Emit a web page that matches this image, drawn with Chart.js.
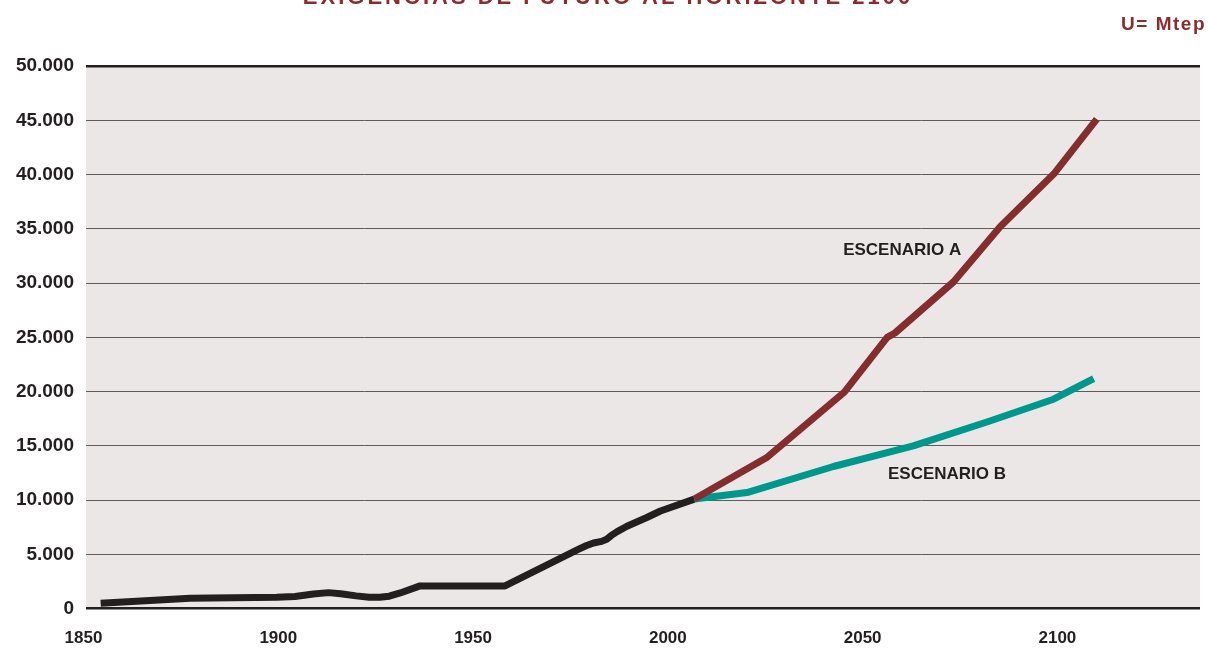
<!DOCTYPE html>
<html lang="es">
<head>
<meta charset="utf-8">
<title>Exigencias de futuro</title>
<script src="https://cdn.jsdelivr.net/npm/chart.js@4.4.1/dist/chart.umd.min.js"></script>
<style>
  html, body { margin: 0; padding: 0; background: #ffffff; }
  canvas { display: block; }
</style>
</head>
<body>
<canvas id="energyChart" width="1208" height="649"></canvas>
<script>
// historic consumption (Mtep)
const histYears = [1854.4, 1877.4, 1899.6, 1904.3, 1909, 1912.9, 1916, 1920, 1923.3, 1926, 1928.5, 1931.3, 1936.4, 1958.2, 1976.6, 1979, 1980.9, 1983, 1984.3, 1985.5, 1987, 1989.5, 1994.6, 1998.1, 2006.8];
const histValues = [500, 960, 1060, 1120, 1350, 1480, 1380, 1180, 1060, 1060, 1150, 1450, 2100, 2100, 5400, 5800, 6050, 6200, 6400, 6750, 7100, 7600, 8400, 9000, 10100];

// scenario A
const yearsA = [2006.8, 2025.3, 2045.3, 2056.3, 2058.3, 2073.3, 2085.3, 2099.3, 2110.1];
const valuesA = [10100, 13900, 19950, 25000, 25400, 30100, 35200, 40150, 45100];

// scenario B
const yearsB = [2006.8, 2020.3, 2042.5, 2063.0, 2081.9, 2099.0, 2109.3];
const valuesB = [10100, 10700, 13100, 15000, 17200, 19300, 21200];

const xTicks = [1850, 1900, 1950, 2000, 2050, 2100];

const titleText = 'EXIGENCIAS DE FUTURO AL HORIZONTE 2100';
const unitText = 'U= Mtep';
const scenarioLabels = [
    { text: 'ESCENARIO A', year: 2045.0, value: 33050 },
    { text: 'ESCENARIO B', year: 2056.5, value: 12350 }
];

const toPoints = (xs, ys) => xs.map((x, i) => ({ x, y: ys[i] }));

// thousands with a dot, like 50.000
function formatNumber(v) {
    return String(v).replace(/\B(?=(\d{3})+(?!\d))/g, '.');
}

const plotBackground = {
    id: 'plotBackground',
    beforeDraw(chart) {
        const { ctx, chartArea } = chart;
        ctx.save();
        ctx.fillStyle = '#ebe7e6';
        ctx.fillRect(chartArea.left, chartArea.top, chartArea.right - chartArea.left, chartArea.bottom - chartArea.top);
        ctx.restore();
    }
};

const textLayer = {
    id: 'textLayer',
    afterDraw(chart) {
        const { ctx } = chart;
        const xs = chart.scales.x;
        const ys = chart.scales.y;
        ctx.save();

        // title, sitting at the very top edge
        ctx.fillStyle = '#8c2b2b';
        ctx.font = 'bold 22px "Liberation Sans", Arial, sans-serif';
        ctx.letterSpacing = '3px';
        ctx.textAlign = 'center';
        ctx.textBaseline = 'alphabetic';
        ctx.fillText(titleText, 608, 4);

        // units
        ctx.font = 'bold 19px "Liberation Sans", Arial, sans-serif';
        ctx.letterSpacing = '1.5px';
        ctx.textAlign = 'right';
        ctx.textBaseline = 'middle';
        ctx.fillText(unitText, 1206, 25);
        ctx.letterSpacing = '0px';

        // scenario names
        ctx.fillStyle = '#231f20';
        ctx.font = 'bold 17px "Liberation Sans", Arial, sans-serif';
        ctx.textAlign = 'left';
        scenarioLabels.forEach(l => {
            ctx.fillText(l.text, xs.getPixelForValue(l.year), ys.getPixelForValue(l.value));
        });
        ctx.restore();
    }
};

const lineStyle = {
    pointRadius: 0,
    borderWidth: 7,
    fill: false,
    tension: 0,
    borderJoinStyle: 'round'
};

new Chart(document.getElementById('energyChart'), {
    type: 'line',
    data: {
        datasets: [
            { ...lineStyle, label: 'Escenario A', data: toPoints(yearsA, valuesA), borderColor: '#832d2c' },
            { ...lineStyle, label: 'Escenario B', data: toPoints(yearsB, valuesB), borderColor: '#00978d' },
            { ...lineStyle, label: 'Histórico', data: toPoints(histYears, histValues), borderColor: '#231f20' }
        ]
    },
    options: {
        responsive: false,
        animation: false,
        devicePixelRatio: 1,
        layout: { padding: { top: 66, right: 8, left: 0, bottom: 0 } },
        plugins: {
            legend: { display: false },
            tooltip: { enabled: false }
        },
        scales: {
            x: {
                type: 'linear',
                min: 1850.64,
                max: 2136.6,
                afterBuildTicks: axis => { axis.ticks = xTicks.map(v => ({ value: v })); },
                afterFit: axis => { axis.height = 40.3; },
                grid: { display: false },
                border: { display: false },
                ticks: {
                    padding: 11,
                    color: '#231f20',
                    font: { family: '"Liberation Sans", Arial, sans-serif', size: 17, weight: 'bold' },
                    callback: v => String(v),
                    maxRotation: 0
                }
            },
            y: {
                min: 0,
                max: 50000,
                afterFit: axis => { axis.width = 86; },
                border: { display: false },
                grid: {
                    drawTicks: false,
                    color: c => (c.tick.value === 0 || c.tick.value === 50000) ? '#231f20' : '#5e5b5b',
                    lineWidth: c => (c.tick.value === 0 || c.tick.value === 50000) ? 2.5 : 1
                },
                ticks: {
                    stepSize: 5000,
                    padding: 12,
                    color: '#231f20',
                    font: { family: '"Liberation Sans", Arial, sans-serif', size: 19, weight: 'bold' },
                    callback: v => formatNumber(v)
                }
            }
        }
    },
    plugins: [plotBackground, textLayer]
});
</script>
</body>
</html>
